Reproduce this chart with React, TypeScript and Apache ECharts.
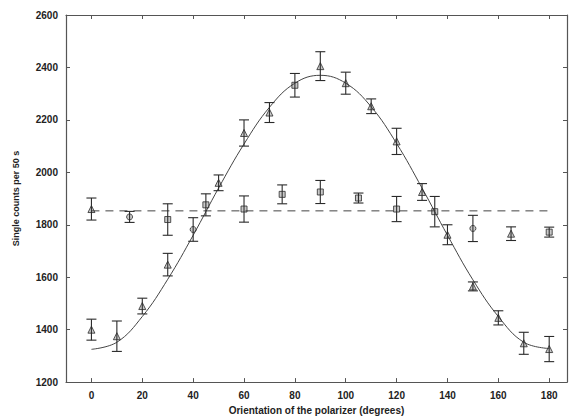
import React, { useEffect, useRef } from "react";
import * as echarts from "echarts";

// Oscillating series (measured vs polarizer angle)
const sinDeg = [0, 10, 20, 30, 40, 45, 50, 60, 70, 80, 90, 100, 110, 120, 130, 135, 140, 150, 160, 170, 180];
const sinVal = [1400, 1375, 1490, 1648, 1782, 1876, 1960, 2150, 2228, 2332, 2405, 2340, 2252, 2118, 1925, 1850, 1762, 1565, 1445, 1348, 1326];
const sinErr = [40, 58, 30, 43, 45, 42, 30, 50, 38, 45, 55, 42, 28, 50, 32, 58, 38, 17, 27, 42, 48];
const sinMark = ["triangle", "triangle", "triangle", "triangle", "circle", "rect", "triangle", "triangle", "triangle", "rect", "triangle", "triangle", "triangle", "triangle", "triangle", "rect", "triangle", "triangle", "triangle", "triangle", "triangle"];

// Flat series (around the dashed mean)
const flatDeg = [0, 15, 30, 60, 75, 90, 105, 120, 150, 165, 180];
const flatVal = [1860, 1830, 1820, 1860, 1916, 1925, 1902, 1860, 1786, 1766, 1772];
const flatErr = [42, 21, 60, 50, 36, 44, 19, 48, 50, 26, 19];
const flatMark = ["triangle", "circle", "rect", "rect", "rect", "rect", "rect", "rect", "circle", "triangle", "rect"];

// Fitted curve
const fitDeg = [0, 10, 20, 30, 40, 50, 60, 70, 80, 90, 100, 110, 120, 130, 140, 150, 160, 170, 180];
const fitVal = [1325, 1352, 1450, 1592, 1760, 1940, 2108, 2248, 2340, 2370, 2340, 2250, 2110, 1940, 1760, 1590, 1450, 1352, 1328];

const meanLevel = 1853;
const meanRange = [0, 180];

const xTicks = [0, 20, 40, 60, 80, 100, 120, 140, 160, 180];

const INK = "#2a2a2a";
const FONT = "Liberation Sans";

export default function App() {
  const ref = useRef<HTMLDivElement>(null);
  useEffect(() => {
    if (!ref.current) return;
    const chart = echarts.init(ref.current, null, { renderer: "svg" });

    const errData = [
      ...sinDeg.map((d, i) => [d, sinVal[i], sinErr[i]]),
      ...flatDeg.map((d, i) => [d, flatVal[i], flatErr[i]]),
    ];
    const allPts = [
      ...sinDeg.map((d, i) => ({ d, v: sinVal[i], m: sinMark[i] })),
      ...flatDeg.map((d, i) => ({ d, v: flatVal[i], m: flatMark[i] })),
    ];
    const markerSeries = ["triangle", "circle", "rect"].map((sym) => ({
      type: "scatter",
      symbol: sym,
      symbolSize: sym === "triangle" ? 7 : 6,
      data: allPts.filter((p) => p.m === sym).map((p) => [p.d, p.v]),
      itemStyle: { color: "rgba(60,60,60,0.35)", borderColor: INK, borderWidth: 1 },
      z: 5,
    }));

    const axisLabelStyle = { fontFamily: FONT, fontWeight: "bold", fontSize: 10, color: "#222" };
    const axLine = { show: true, onZero: false, lineStyle: { color: "#555", width: 1.2 } };
    const tickStyle = { color: "#555" };

    chart.setOption({
      animation: false,
      backgroundColor: "#fff",
      grid: { left: 66, right: 2, top: 15, bottom: 37 },
      xAxis: [
        {
          type: "value",
          min: -10,
          max: 187,
          position: "bottom",
          name: "Orientation of the polarizer (degrees)",
          nameLocation: "middle",
          nameGap: 20,
          nameTextStyle: { fontFamily: FONT, fontWeight: "bold", fontSize: 10, color: "#222" },
          axisLine: axLine,
          axisTick: { inside: true, length: 4, customValues: xTicks, lineStyle: tickStyle },
          axisLabel: { ...axisLabelStyle, margin: 8, customValues: xTicks },
          splitLine: { show: false },
        },
        {
          type: "value",
          min: -10,
          max: 187,
          position: "top",
          axisLine: axLine,
          axisTick: { inside: true, length: 4, customValues: xTicks, lineStyle: tickStyle },
          axisLabel: { show: false },
          splitLine: { show: false },
        },
      ],
      yAxis: [
        {
          type: "value",
          min: 1200,
          max: 2600,
          interval: 200,
          position: "left",
          name: "Single counts per 50 s",
          nameLocation: "middle",
          nameGap: 46,
          nameTextStyle: { fontFamily: FONT, fontWeight: "bold", fontSize: 9, color: "#222" },
          axisLine: axLine,
          axisTick: { show: true, inside: true, length: 4, lineStyle: tickStyle },
          axisLabel: { ...axisLabelStyle, margin: 8, formatter: (v: number) => String(v) },
          splitLine: { show: false },
        },
        {
          type: "value",
          min: 1200,
          max: 2600,
          interval: 200,
          position: "right",
          axisLine: axLine,
          axisTick: { show: true, inside: true, length: 4, lineStyle: tickStyle },
          axisLabel: { show: false },
          splitLine: { show: false },
        },
      ],
      series: [
        {
          type: "line",
          data: fitDeg.map((d, i) => [d, fitVal[i]]),
          smooth: 0.4,
          symbol: "none",
          lineStyle: { color: "#444", width: 1 },
          z: 2,
        },
        {
          type: "line",
          data: meanRange.map((d) => [d, meanLevel]),
          symbol: "none",
          lineStyle: { color: "#444", width: 1, type: [8, 6] },
          z: 2,
        },
        {
          type: "custom",
          data: errData,
          encode: { x: 0, y: 1 },
          z: 3,
          renderItem: (params: any, api: any) => {
            const x = api.value(0);
            const y = api.value(1);
            const e = api.value(2);
            const hi = api.coord([x, y + e]);
            const lo = api.coord([x, y - e]);
            const cw = 5;
            const style = { stroke: INK, lineWidth: 1.1, fill: null };
            return {
              type: "group",
              children: [
                { type: "line", shape: { x1: hi[0], y1: hi[1], x2: lo[0], y2: lo[1] }, style },
                { type: "line", shape: { x1: hi[0] - cw, y1: hi[1], x2: hi[0] + cw, y2: hi[1] }, style },
                { type: "line", shape: { x1: lo[0] - cw, y1: lo[1], x2: lo[0] + cw, y2: lo[1] }, style },
              ],
            };
          },
        },
        ...markerSeries,
      ],
    });
    return () => chart.dispose();
  }, []);
  return <div ref={ref} style={{ width: 569, height: 420, position: "absolute", left: 0, top: 0 }} />;
}
